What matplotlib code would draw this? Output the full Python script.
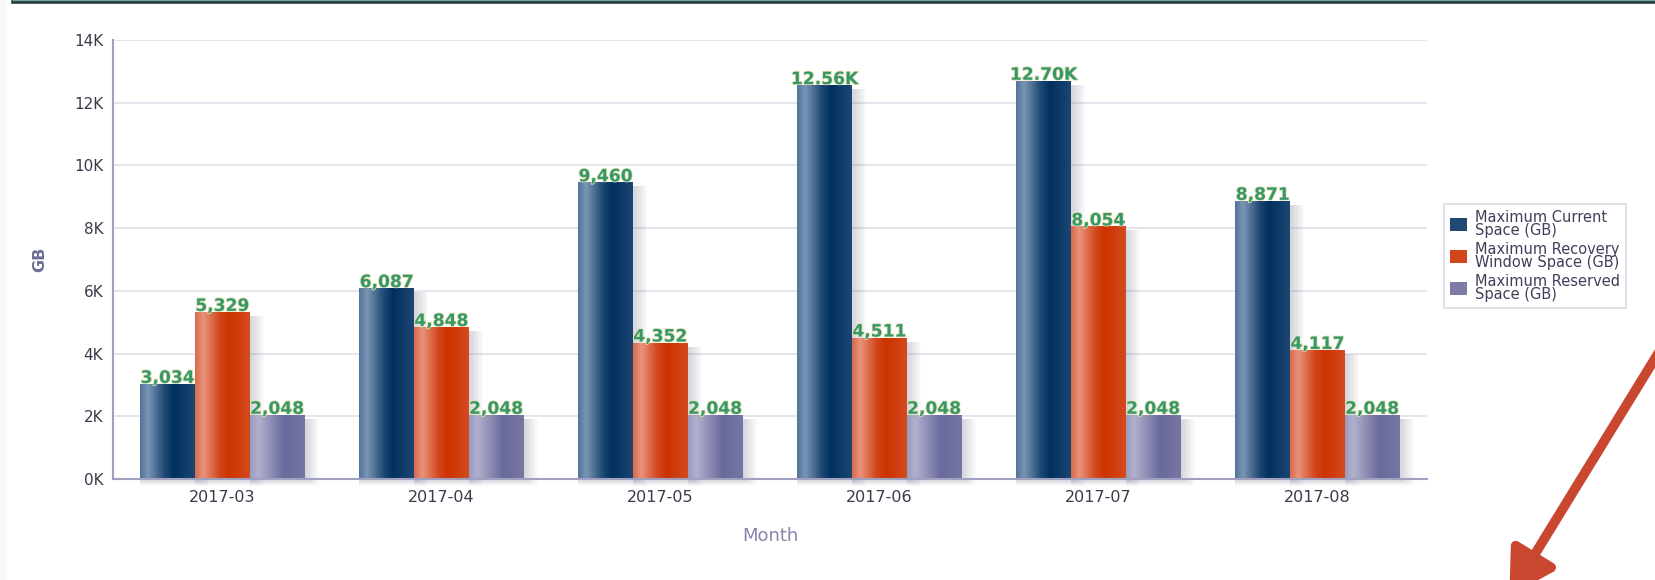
from __future__ import annotations

import matplotlib

matplotlib.use("Agg")
import matplotlib.patheffects as pe
import matplotlib.pyplot as plt
import numpy as np
from matplotlib.colors import LinearSegmentedColormap
from matplotlib.lines import Line2D
from matplotlib.patches import FancyArrowPatch, Rectangle

MONTHS = ["2017-03", "2017-04", "2017-05", "2017-06", "2017-07", "2017-08"]
CURRENT_SPACE = [3034, 6087, 9460, 12560, 12700, 8871]
RECOVERY_SPACE = [5329, 4848, 4352, 4511, 8054, 4117]
RESERVED_SPACE = [2048, 2048, 2048, 2048, 2048, 2048]
SERIES_LABELS = [
    "Maximum Current\nSpace (GB)",
    "Maximum Recovery\nWindow Space (GB)",
    "Maximum Reserved\nSpace (GB)",
]
Y_TICKS = [0, 2000, 4000, 6000, 8000, 10000, 12000, 14000]
Y_TICK_LABELS = ["0K", "2K", "4K", "6K", "8K", "10K", "12K", "14K"]

# left edge, highlight, mid, dark core, right edge
GRADIENTS = [
    ["#52739A", "#7896B4", "#1F4874", "#00305F", "#1D4673"],
    ["#D86A4C", "#E9937C", "#D2461C", "#CC3300", "#D44A1F"],
    ["#9A9ABC", "#B1B1CE", "#8484AE", "#6A6A9C", "#7676A2"],
]
MID_COLORS = ["#1F4874", "#D2461C", "#7C7CA6"]
LABEL_COLOR = "#369868"


def fmt_value(v: float) -> str:
    if v >= 10000:
        return f"{v / 1000:.2f}K"
    return f"{v:,}"


def main() -> None:
    fig = plt.figure(figsize=(16.55, 5.8), dpi=100)
    ax = fig.add_axes([113 / 1655, 1 - 479 / 580, 1314 / 1655, 439 / 580])

    series = [CURRENT_SPACE, RECOVERY_SPACE, RESERVED_SPACE]
    x = np.arange(len(MONTHS))
    width = 0.25
    px_x = len(MONTHS) / 1314
    px_y = 14000 / 439
    grad = np.linspace(0, 1, 256).reshape(1, -1)

    containers = []
    for i, values in enumerate(series):
        cmap = LinearSegmentedColormap.from_list(
            f"g{i}", list(zip([0.0, 0.15, 0.45, 0.62, 1.0], GRADIENTS[i]))
        )
        bars = ax.bar(
            x + (i - 1) * width,
            values,
            width,
            color=MID_COLORS[i],
            label=SERIES_LABELS[i],
            zorder=3,
            linewidth=0,
        )
        containers.append(bars)
        for patch, v in zip(bars.patches, values):
            bx, bw, bh = patch.get_x(), patch.get_width(), patch.get_height()
            # soft drop shadow
            for k in range(1, 12):
                ax.add_patch(
                    Rectangle(
                        (bx, -k * 0.6 * px_y),
                        bw + k * 1.3 * px_x,
                        bh - 4 * px_y + k * 0.6 * px_y,
                        facecolor="#5E5E78",
                        alpha=0.022,
                        linewidth=0,
                        zorder=2,
                        clip_on=False,
                    )
                )
            im = ax.imshow(
                grad,
                cmap=cmap,
                extent=[bx, bx + bw, 0, bh],
                aspect="auto",
                interpolation="bicubic",
                zorder=4,
            )
            im.set_clip_path(patch)
            ax.text(
                bx + bw / 2,
                bh + 1.0 * px_y,
                fmt_value(v),
                ha="center",
                va="baseline",
                fontsize=12.3,
                fontweight="bold",
                color=LABEL_COLOR,
                zorder=6,
                path_effects=[pe.withStroke(linewidth=1.2, foreground="#E6E2B4")],
            )

    ax.set_xlim(-0.5, len(MONTHS) - 0.5)
    ax.set_ylim(0, 14000)
    ax.set_xticks(x)
    ax.set_xticklabels(MONTHS)
    ax.set_yticks(Y_TICKS)
    ax.set_yticklabels(Y_TICK_LABELS)
    ax.tick_params(axis="x", length=0, pad=8, labelsize=11.5, labelcolor="#3A3A4A")
    ax.tick_params(axis="y", length=0, pad=7, labelsize=11, labelcolor="#3A3A4A")
    ax.grid(axis="y", color="#E3E3EC", linewidth=1.3, zorder=0)
    ax.set_axisbelow(True)
    for side in ["top", "right"]:
        ax.spines[side].set_visible(False)
    for side in ["left", "bottom"]:
        ax.spines[side].set_color("#A0A0C0")
        ax.spines[side].set_linewidth(1.5)
        ax.spines[side].set_zorder(7)

    ax.set_ylabel("GB", fontsize=11.5, fontweight="bold", color="#6D6D96")
    ax.yaxis.set_label_coords(-0.050, 0.5)
    ax.set_xlabel("Month", fontsize=13, color="#8585AA")
    ax.xaxis.set_label_coords(0.5, -0.11)

    leg = fig.legend(
        handles=containers,
        labels=SERIES_LABELS,
        loc="upper left",
        bbox_to_anchor=(1444 / 1655, 1 - 204 / 580),
        bbox_transform=fig.transFigure,
        borderaxespad=0,
        fontsize=10.5,
        frameon=True,
        fancybox=False,
        edgecolor="#D4D4E0",
        handlelength=1.2,
        handleheight=1.0,
        handletextpad=0.55,
        labelspacing=0.25,
        borderpad=0.4,
    )
    for t in leg.get_texts():
        t.set_color("#3F3F5A")
        t.set_linespacing(0.85)
    leg.get_frame().set_linewidth(1.2)

    # top dark border and left strip of the screenshot
    fig.add_artist(Line2D([13 / 1655, 1], [1 - 1.5 / 580, 1 - 1.5 / 580],
                          transform=fig.transFigure, color="#2E3B3E", linewidth=2.6))
    fig.add_artist(Line2D([13 / 1655, 1], [1 - 0.3 / 580, 1 - 0.3 / 580],
                          transform=fig.transFigure, color="#6FA6A6", linewidth=0.8))
    fig.add_artist(Rectangle((0, 0), 7 / 1655, 1, transform=fig.transFigure,
                             facecolor="#F8F8F8", linewidth=0))

    arrow = FancyArrowPatch(
        (1.005, 1 - 345 / 580),
        (1508 / 1655, 1 - 598 / 580),
        transform=fig.transFigure,
        arrowstyle="-|>,head_length=1.3,head_width=0.75",
        mutation_scale=20,
        linewidth=7,
        color="#C9472F",
        clip_on=False,
    )
    fig.add_artist(arrow)

    fig.savefig("out.png", dpi=100)


if __name__ == "__main__":
    main()
